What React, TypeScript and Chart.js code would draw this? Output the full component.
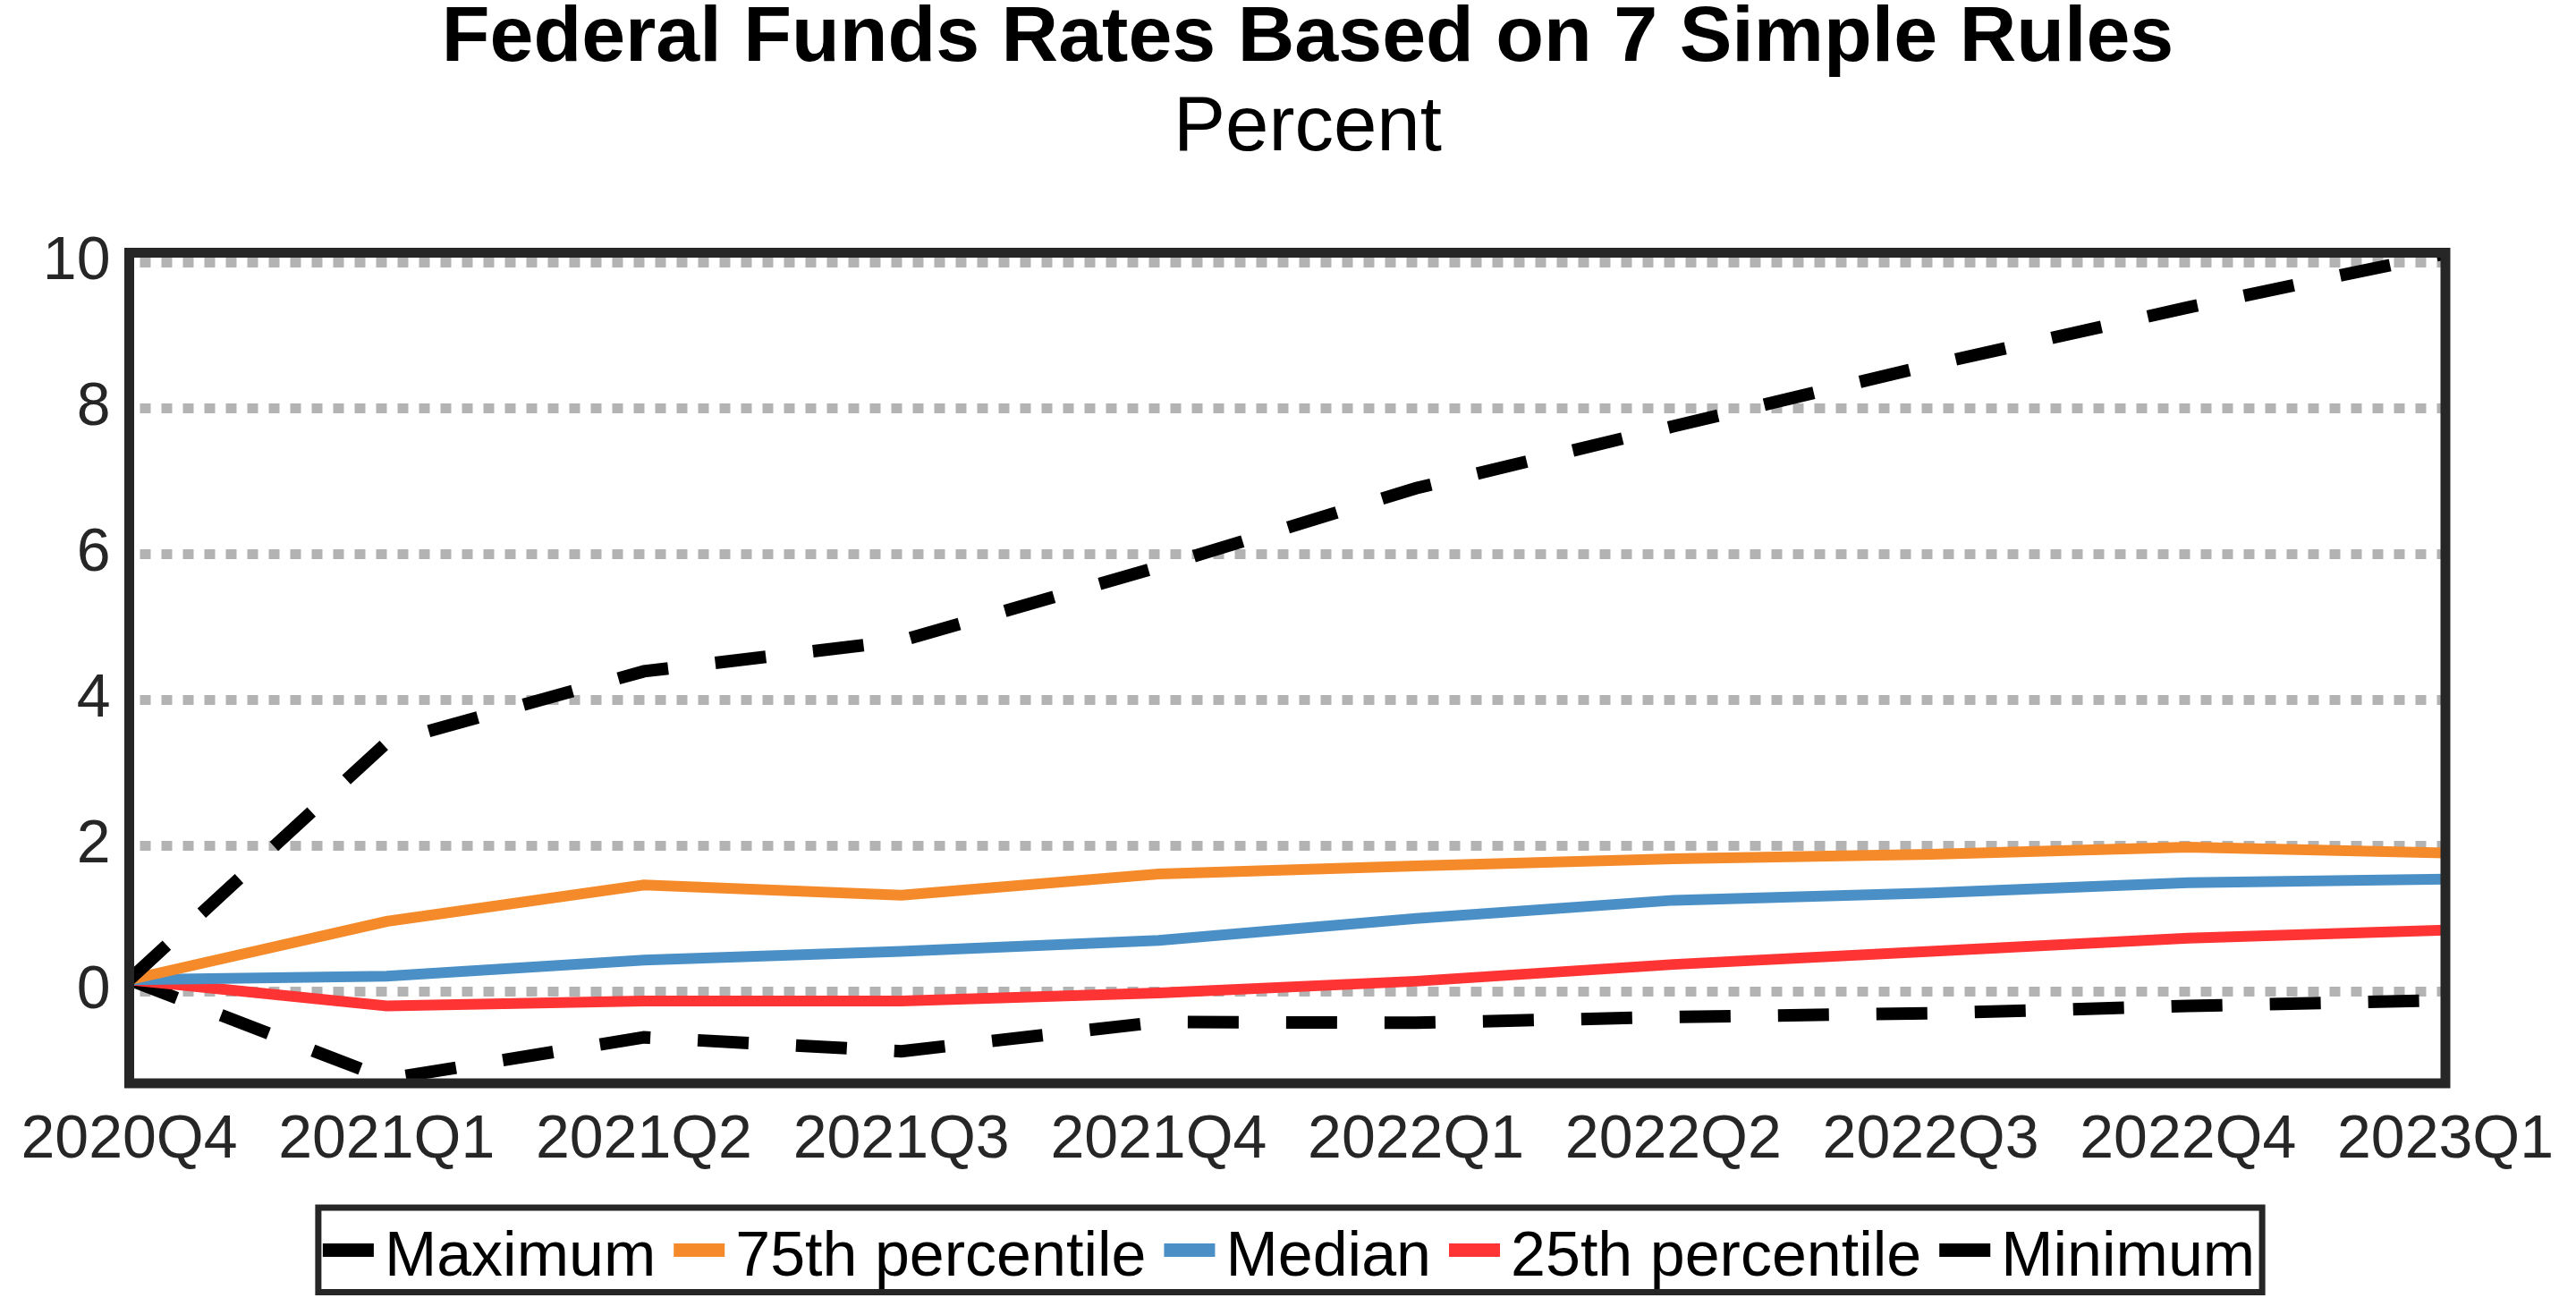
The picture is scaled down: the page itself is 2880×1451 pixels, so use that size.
import React, { useEffect, useRef } from 'react';
import { Chart, registerables } from 'chart.js';

Chart.register(...registerables);

const categories = ['2020Q4', '2021Q1', '2021Q2', '2021Q3', '2021Q4', '2022Q1', '2022Q2', '2022Q3', '2022Q4', '2023Q1'];
const maximum = [0.16, 3.41, 4.39, 4.81, 5.82, 6.9, 7.75, 8.59, 9.38, 10.12];
const pct75 = [0.16, 0.96, 1.46, 1.32, 1.61, 1.72, 1.82, 1.88, 1.98, 1.9];
const median = [0.16, 0.21, 0.43, 0.55, 0.7, 1.0, 1.25, 1.35, 1.49, 1.54];
const pct25 = [0.16, -0.2, -0.13, -0.13, -0.02, 0.14, 0.37, 0.55, 0.73, 0.84];
const minimum = [0.16, -1.2, -0.63, -0.82, -0.42, -0.43, -0.35, -0.3, -0.2, -0.12];
const yTicks = [0, 2, 4, 6, 8, 10];

const titleText = 'Federal Funds Rates Based on 7 Simple Rules';
const subtitleText = 'Percent';
const FONT = "'Liberation Sans', Arial, sans-serif";

const decorPlugin = {
  id: 'decor',
  afterDatasetsDraw(chart: any) {
    const { ctx, chartArea: a } = chart;
    ctx.save();
    ctx.strokeStyle = '#262626';
    ctx.lineWidth = 11;
    ctx.setLineDash([]);
    ctx.strokeRect(a.left, a.top, a.right - a.left, a.bottom - a.top);
    ctx.restore();
  },
  afterDraw(chart: any) {
    const { ctx } = chart;
    ctx.save();
    ctx.fillStyle = '#000';
    ctx.textAlign = 'center';
    ctx.textBaseline = 'alphabetic';
    ctx.font = `bold 88px ${FONT}`;
    ctx.fillText(titleText, 1462, 68);
    ctx.font = `87px ${FONT}`;
    ctx.fillText(subtitleText, 1462, 168);

    ctx.font = `70px ${FONT}`;
    ctx.textAlign = 'left';
    const markerW = 57;
    const markerH = 15;
    const textGap = 12;
    const itemGap = 20;
    const items = chart.data.datasets.map((d: any) => ({
      text: d.label,
      color: d.borderColor,
      w: markerW + textGap + ctx.measureText(d.label).width,
    }));
    const total = items.reduce((s: number, it: any) => s + it.w, 0) + itemGap * (items.length - 1);
    const startX = 1441 - total / 2;
    const boxLeft = startX - 5;
    const boxRight = startX + total + 8;
    ctx.strokeStyle = '#262626';
    ctx.lineWidth = 7;
    ctx.strokeRect(boxLeft, 1350, boxRight - boxLeft, 94.5);
    let x = startX;
    items.forEach((it: any) => {
      ctx.fillStyle = it.color;
      ctx.fillRect(x, 1390, markerW, markerH);
      ctx.fillStyle = '#000';
      ctx.fillText(it.text, x + markerW + textGap, 1426);
      x += it.w + itemGap;
    });
    ctx.restore();
  },
};

export default function App() {
  const canvasRef = useRef<HTMLCanvasElement | null>(null);

  useEffect(() => {
    if (!canvasRef.current) return;
    const dashed = [57, 53];
    const chart = new Chart(canvasRef.current, {
      type: 'line',
      data: {
        labels: categories,
        datasets: [
          { label: 'Maximum', data: maximum, borderColor: '#000000', backgroundColor: '#000000', borderWidth: 14, borderDash: dashed, pointRadius: 0, tension: 0, borderCapStyle: 'butt' },
          { label: '75th percentile', data: pct75, borderColor: '#f58a2a', backgroundColor: '#f58a2a', borderWidth: 12, pointRadius: 0, tension: 0 },
          { label: 'Median', data: median, borderColor: '#4a90c6', backgroundColor: '#4a90c6', borderWidth: 12, pointRadius: 0, tension: 0 },
          { label: '25th percentile', data: pct25, borderColor: '#fe3333', backgroundColor: '#fe3333', borderWidth: 12, pointRadius: 0, tension: 0 },
          { label: 'Minimum', data: minimum, borderColor: '#000000', backgroundColor: '#000000', borderWidth: 14, borderDash: dashed, pointRadius: 0, tension: 0, borderCapStyle: 'butt' },
        ],
      },
      options: {
        animation: false,
        responsive: true,
        maintainAspectRatio: false,
        layout: { padding: { top: 282.5, right: 146, bottom: 0, left: 0 } },
        plugins: {
          legend: { display: false },
          title: { display: false },
          tooltip: { enabled: false },
        },
        scales: {
          x: {
            type: 'category',
            offset: false,
            afterFit: (s: any) => { s.height = 240; },
            grid: { display: false, drawTicks: false },
            border: { display: false },
            ticks: { padding: 23, font: { size: 68, family: FONT }, color: '#262626', autoSkip: false, maxRotation: 0, minRotation: 0 },
          },
          y: {
            min: -1.26,
            max: 10.13,
            afterBuildTicks: (s: any) => { s.ticks = yTicks.map((v) => ({ value: v })); },
            afterFit: (s: any) => { s.width = 144.5; },
            grid: { color: '#b3b3b3', lineWidth: 11, drawTicks: false },
            border: { display: false, dash: [12, 12], dashOffset: 12.5 },
            ticks: { padding: 21, font: { size: 68, family: FONT }, color: '#262626' },
          },
        },
      },
      plugins: [decorPlugin],
    } as any);
    return () => chart.destroy();
  }, []);

  return (
    <div style={{ position: 'fixed', left: 0, top: 0, width: 2880, height: 1451, background: '#ffffff' }}>
      <canvas ref={canvasRef} />
    </div>
  );
}
